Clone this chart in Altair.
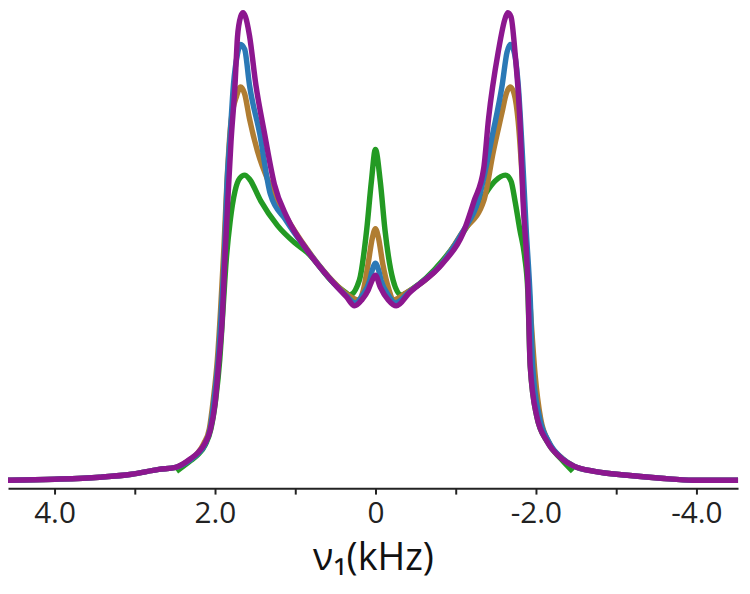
import altair as alt
import pandas as pd

# frequency offsets (kHz) and intensities (arbitrary units)
purple_nu = [4.58, 4.0, 3.44, 3.04, 2.70, 2.49, 2.30, 2.21, 2.12, 2.06, 2.0, 1.95, 1.91, 1.88, 1.84,
             1.80, 1.75, 1.72, 1.68, 1.65, 1.62, 1.57, 1.49, 1.38, 1.26, 1.10, 0.85, 0.52, 0.36, 0.26,
             0.17, 0.09, 0.05, 0.0, -0.06, -0.16, -0.26, -0.42, -0.84, -1.09, -1.23, -1.35, -1.41, -1.53,
             -1.62, -1.65, -1.69, -1.74, -1.80, -1.84, -1.90, -1.93, -2.01, -2.14, -2.32, -2.48, -2.73,
             -3.14, -3.56, -3.96, -4.52]
purple_int = [10, 11, 13, 16, 21, 23, 32, 38, 48, 60, 87, 132, 172, 227, 292,
              352, 409, 457, 478, 482, 478, 459, 409, 359, 309, 275, 242, 209, 195, 186,
              192, 202, 210, 217, 205, 192, 186, 199, 229, 259, 292, 325, 375, 442,
              477, 482, 478, 442, 375, 292, 209, 125, 75, 49, 32, 24, 19,
              15, 12, 10, 10]

blue_nu = [4.58, 4.0, 3.44, 3.04, 2.70, 2.49, 2.30, 2.21, 2.12, 2.06, 2.01, 1.96, 1.92, 1.88, 1.85,
           1.81, 1.77, 1.72, 1.68, 1.63, 1.57, 1.44, 1.31, 1.12, 0.85, 0.52, 0.36, 0.25, 0.16, 0.07,
           0.04, 0.0, -0.04, -0.07, -0.16, -0.25, -0.42, -0.84, -1.09, -1.28, -1.46, -1.58, -1.64,
           -1.68, -1.73, -1.78, -1.83, -1.88, -1.93, -1.96, -2.04, -2.16, -2.33, -2.48, -2.73, -3.14,
           -3.56, -3.96, -4.52]
blue_int = [10, 11, 13, 16, 21, 23, 31, 37, 47, 62, 92, 132, 182, 242, 309,
            359, 409, 440, 450, 445, 409, 359, 299, 273, 242, 209, 196, 189, 197, 212,
            222, 229, 222, 212, 197, 189, 200, 230, 261, 292, 359, 409, 442,
            450, 442, 409, 342, 262, 192, 125, 75, 49, 32, 24, 19, 15,
            12, 10, 10]

brown_nu = [4.58, 4.0, 3.44, 3.04, 2.70, 2.49, 2.31, 2.22, 2.14, 2.07, 2.02, 1.97, 1.93, 1.89, 1.85,
            1.80, 1.73, 1.68, 1.63, 1.57, 1.47, 1.32, 1.12, 0.85, 0.52, 0.36, 0.21, 0.15, 0.09, 0.04,
            0.0, -0.04, -0.09, -0.17, -0.22, -0.38, -0.84, -1.09, -1.35, -1.47, -1.58, -1.63, -1.68,
            -1.73, -1.78, -1.84, -1.89, -1.94, -1.99, -2.06, -2.17, -2.33, -2.48, -2.73, -3.14, -3.56,
            -3.96, -4.52]
brown_int = [10, 11, 13, 16, 21, 23, 31, 37, 47, 62, 92, 132, 182, 242, 312,
             372, 398, 407, 400, 375, 342, 309, 277, 243, 210, 198, 192, 202, 229, 254,
             264, 254, 229, 202, 192, 199, 230, 261, 292, 342, 382, 400, 407,
             400, 372, 302, 232, 172, 117, 72, 47, 32, 24, 19, 15, 12,
             10, 10]

green_nu = [2.48, 2.30, 2.21, 2.12, 2.05, 1.99, 1.94, 1.90, 1.86, 1.81, 1.75, 1.69, 1.63, 1.57, 1.43,
            1.22, 1.01, 0.85, 0.52, 0.38, 0.32, 0.20, 0.11, 0.05, 0.0, -0.06, -0.12, -0.22, -0.32,
            -0.44, -0.84, -1.00, -1.21, -1.37, -1.49, -1.62, -1.69, -1.74, -1.80, -1.86, -1.90, -1.93,
            -2.01, -2.14, -2.32, -2.46]
green_int = [19, 30, 36, 46, 62, 92, 132, 182, 232, 272, 302, 315, 318, 314, 292,
             267, 250, 240, 209, 200, 197, 212, 262, 312, 344, 312, 262, 212, 197,
             202, 232, 249, 275, 299, 312, 318, 312, 292, 263, 236, 200, 125,
             75, 49, 31, 19]

tick_values = [4, 3, 2, 1, 0, -1, -2, -3, -4]

series = [
    ("green", green_nu, green_int, "#239a23"),
    ("brown", brown_nu, brown_int, "#b07d32"),
    ("blue", blue_nu, blue_int, "#2b79b6"),
    ("purple", purple_nu, purple_int, "#8c178f"),
]

FONT = "Open Sans"
x_scale = alt.Scale(domain=[4.58, -4.52], nice=False, zero=False)
y_scale = alt.Scale(domain=[2, 484], nice=False, zero=False)
x_axis = alt.Axis(
    values=tick_values,
    labelExpr="datum.value == 0 ? '0' : (datum.value % 2 == 0 ? datum.value + '.0' : '')",
    grid=False,
    domainColor="#222222",
    domainWidth=2,
    tickColor="#222222",
    tickWidth=2,
    tickSize=6,
    labelFont=FONT,
    labelFontSize=30,
    labelColor="#222222",
    labelPadding=5,
    labelFlush=False,
    labelOverlap=False,
    title="ν₁(kHz)",
    titleFont=FONT,
    titleFontSize=38,
    titleFontWeight="normal",
    titleColor="#111111",
    titlePadding=11,
)

layers = []
for name, nu, inten, col in series:
    df = pd.DataFrame({"nu": nu, "intensity": inten, "series": name})
    layers.append(
        alt.Chart(df)
        .mark_line(interpolate="monotone", strokeWidth=5.5, color=col, clip=False)
        .encode(
            x=alt.X("nu:Q", scale=x_scale, axis=x_axis),
            y=alt.Y("intensity:Q", scale=y_scale, axis=None),
            order=alt.Order("nu:Q", sort="descending"),
        )
    )

chart = (
    alt.layer(*layers)
    .properties(
        width=737,
        height=482,
        padding={"left": 0, "top": 0, "right": 4, "bottom": 91},
        autosize=alt.AutoSizeParams(type="none"),
        background="white",
    )
    .configure_view(stroke=None)
)

chart.save("out.html", embed_options={"renderer": "svg", "actions": False})
